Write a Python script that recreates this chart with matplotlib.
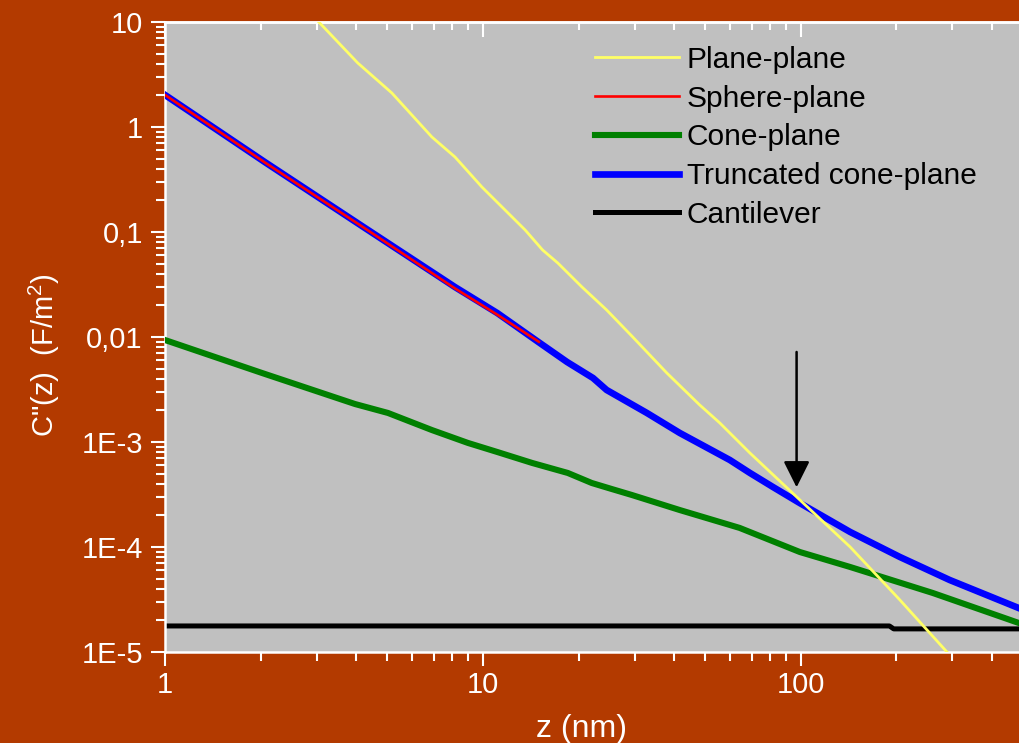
"""
Second derivative of capacitance C''(z) for several tip geometries,
log-log, styled after the original Origin plot.
"""

import matplotlib
matplotlib.use("Agg")
import matplotlib.pyplot as plt
from matplotlib.ticker import FixedLocator, FixedFormatter, NullFormatter, LogLocator

plt.rcParams['font.family'] = ['Liberation Sans', 'DejaVu Sans']
plt.rcParams['mathtext.default'] = 'regular'

BG = '#B33A00'
PLOT_BG = '#C0C0C0'

# Data (z in nm, C'' in F/m^2)
z_plane = [3.01, 4.04, 5.17, 6.91, 8.17, 9.93, 13.6, 15.4, 17.2, 20.5, 24.5,
           29.6, 37.9, 48.1, 55.6, 69.2, 99.3, 143, 205, 290]
c_plane = [10.4, 4.07, 2.11, 0.803, 0.518, 0.268, 0.104, 0.0675, 0.0507,
           0.0299, 0.0181, 0.0100, 4.54e-3, 2.25e-3, 1.52e-3, 7.85e-4,
           2.81e-4, 1.0e-4, 3.13e-5, 9.8e-6]

z_sphere = [1.0, 2.06, 4.26, 8.17, 11.1, 15.0]
c_sphere = [2.02, 0.46, 0.108, 0.0290, 0.0163, 9.0e-3]

z_cone = [1.0, 2.02, 3.96, 5.03, 6.91, 8.97, 11.1, 14.3, 18.5, 22.0, 25.4,
          29.4, 41.6, 64.2, 99.3, 143, 260, 485]
c_cone = [9.36e-3, 4.54e-3, 2.30e-3, 1.89e-3, 1.30e-3, 9.8e-4, 8.03e-4,
          6.31e-4, 5.07e-4, 4.07e-4, 3.57e-4, 3.13e-4, 2.25e-4, 1.52e-4,
          8.96e-5, 6.45e-5, 3.65e-5, 1.89e-5]

z_trunc = [1.0, 2.06, 4.26, 8.17, 11.1, 15.1, 18.4, 22.2, 24.5, 32.8, 41.6,
           59.8, 69.2, 81.7, 99.3, 143, 205, 294, 485]
c_trunc = [2.02, 0.464, 0.109, 0.0299, 0.0169, 8.77e-3, 5.78e-3, 4.07e-3,
           3.13e-3, 1.89e-3, 1.22e-3, 6.74e-4, 5.07e-4, 3.73e-4, 2.62e-4,
           1.39e-4, 8.03e-5, 4.85e-5, 2.62e-5]

z_cant = [1.0, 190, 196, 500]
c_cant = [1.77e-5, 1.77e-5, 1.66e-5, 1.66e-5]

arrow_z = 97
arrow_top = 7.2e-3
arrow_tip = 3.7e-4

y_ticks = [1e-5, 1e-4, 1e-3, 1e-2, 1e-1, 1, 10]
y_labels = ['1E-5', '1E-4', '1E-3', '0,01', '0,1', '1', '10']
x_ticks = [1, 10, 100]
x_labels = ['1', '10', '100']

fig = plt.figure(figsize=(10.19, 7.43), dpi=100, facecolor=BG)
ax = fig.add_axes([165 / 1019, 91 / 743, 858 / 1019, 630 / 743])
ax.set_facecolor(PLOT_BG)

ax.plot(z_cant, c_cant, color='black', lw=3.6, label='Cantilever', zorder=2)
ax.plot(z_cone, c_cone, color='#008000', lw=4.4, label='Cone-plane', zorder=3)
ax.plot(z_trunc, c_trunc, color='#0000FF', lw=4.8, label='Truncated cone-plane', zorder=4)
ax.plot(z_sphere, c_sphere, color='#FF0000', lw=1.9, label='Sphere-plane', zorder=5)
ax.plot(z_plane, c_plane, color='#FFFF66', lw=2.0, label='Plane-plane', zorder=6)

ax.annotate('', xy=(arrow_z, arrow_tip), xytext=(arrow_z, arrow_top),
            arrowprops=dict(arrowstyle='-|>,head_length=0.8,head_width=0.4',
                            mutation_scale=20, color='black', lw=1.8,
                            shrinkA=0, shrinkB=0), zorder=7)

ax.set_xscale('log')
ax.set_yscale('log')
ax.set_xlim(1, 500)
ax.set_ylim(1e-5, 10)

ax.yaxis.set_major_locator(FixedLocator(y_ticks))
ax.yaxis.set_major_formatter(FixedFormatter(y_labels))
ax.yaxis.set_minor_locator(LogLocator(base=10, subs=range(2, 10), numticks=20))
ax.yaxis.set_minor_formatter(NullFormatter())
ax.xaxis.set_major_locator(FixedLocator(x_ticks))
ax.xaxis.set_major_formatter(FixedFormatter(x_labels))
ax.xaxis.set_minor_locator(LogLocator(base=10, subs=range(2, 10), numticks=20))
ax.xaxis.set_minor_formatter(NullFormatter())

ax.tick_params(which='both', direction='out', color='white', width=1.5,
               labelcolor='white', labelsize=21, top=False, right=False)
ax.tick_params(which='major', length=10)
ax.tick_params(which='minor', length=6.5)
ax.tick_params(axis='y', pad=6)
ax.tick_params(axis='x', pad=4)

for side in ['left', 'bottom', 'top']:
    ax.spines[side].set_color('white')
    ax.spines[side].set_linewidth(1.8)
ax.spines['right'].set_visible(False)

# top axis with inward ticks, no labels
top = ax.secondary_xaxis('top')
top.xaxis.set_major_locator(FixedLocator(x_ticks))
top.xaxis.set_minor_locator(LogLocator(base=10, subs=range(2, 10), numticks=20))
top.xaxis.set_major_formatter(NullFormatter())
top.xaxis.set_minor_formatter(NullFormatter())
top.tick_params(which='both', direction='in', color='white', width=1.5)
top.tick_params(which='major', length=11)
top.tick_params(which='minor', length=6)
top.spines['top'].set_color('white')
top.spines['top'].set_linewidth(1.8)

ax.set_xlabel('z (nm)', color='white', fontsize=23)
ax.xaxis.set_label_coords((582 - 165) / 858, -0.098)
ax.set_ylabel('C"(z)  (F/m$^{2}$)', color='white', fontsize=21)
ax.yaxis.set_label_coords((62 - 165) / 858, (652 - 355) / 630)

handles, labels = ax.get_legend_handles_labels()
order = [4, 3, 1, 2, 0]
leg = ax.legend([handles[i] for i in order], [labels[i] for i in order],
                loc='upper left', bbox_to_anchor=((595 - 165) / 858, 0.962),
                frameon=False, fontsize=21.5, handlelength=2.8,
                handletextpad=0.27, labelspacing=0.36, borderpad=0,
                borderaxespad=0)

fig.savefig('out.png', dpi=100, facecolor=BG)
